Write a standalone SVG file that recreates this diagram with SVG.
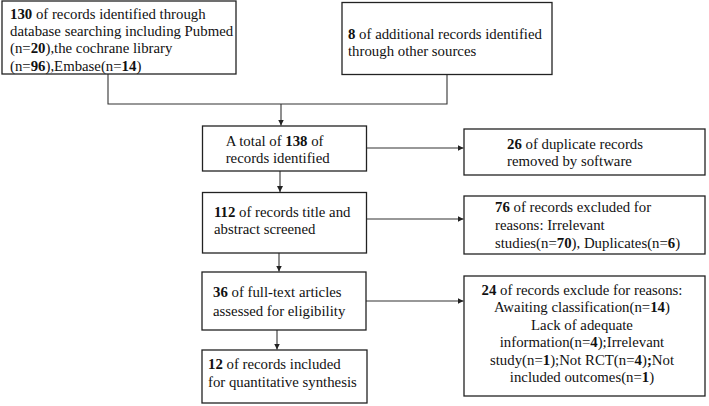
<svg xmlns="http://www.w3.org/2000/svg" width="709" height="406" viewBox="0 0 709 406">
<style>
.box{fill:#fff;stroke:#222;stroke-width:1.3}
.t{font-family:"Liberation Serif","Times New Roman",serif;font-size:14.8px;fill:#111}
.b{font-weight:bold}
.c{fill:none;stroke:#333;stroke-width:1.1}
</style>
<defs>
<marker id="ah" markerUnits="userSpaceOnUse" markerWidth="7" markerHeight="6" refX="6" refY="3" orient="auto">
<path d="M0,0 L6,3 L0,6 z" fill="#222"/>
</marker>
</defs>
<g id="connectors">
<path class="c" d="M108 74 V104 H447 V74.5"/>
<path class="c" d="M281 104 V125.5" marker-end="url(#ah)"/>
<path class="c" d="M366.5 148 H463.5" marker-end="url(#ah)"/>
<path class="c" d="M280 171 V192" marker-end="url(#ah)"/>
<path class="c" d="M366.5 219 H463.5" marker-end="url(#ah)"/>
<path class="c" d="M279 253 V271.5" marker-end="url(#ah)"/>
<path class="c" d="M366 301 H463.5" marker-end="url(#ah)"/>
<path class="c" d="M277 330 V349.5" marker-end="url(#ah)"/>
</g>
<g id="n1">
<rect class="box" x="2" y="1" width="234" height="73"/>
<text class="t" x="10" y="19"><tspan class="b">130</tspan> of records identified through</text>
<text class="t" x="10" y="36">database searching including Pubmed</text>
<text class="t" x="10" y="53.3">(n=<tspan class="b">20</tspan>),the cochrane library</text>
<text class="t" x="10" y="70.7">(n=<tspan class="b">96</tspan>),Embase(n=<tspan class="b">14</tspan>)</text>
</g>
<g id="n2">
<rect class="box" x="342" y="2.5" width="210" height="72"/>
<text class="t" x="348" y="39.3"><tspan class="b">8</tspan> of additional records identified</text>
<text class="t" x="348" y="56">through other sources</text>
</g>
<g id="n3">
<rect class="box" x="202.5" y="126" width="164" height="45"/>
<text class="t" x="225.7" y="146">A total of <tspan class="b">138</tspan> of</text>
<text class="t" x="225.7" y="163.3">records identified</text>
</g>
<g id="n4">
<rect class="box" x="464" y="129" width="241" height="46"/>
<text class="t" x="507" y="148.5"><tspan class="b">26</tspan> of duplicate records</text>
<text class="t" x="507" y="166">removed by software</text>
</g>
<g id="n5">
<rect class="box" x="202.5" y="192.5" width="164" height="60.5"/>
<text class="t" x="214" y="216.7"><tspan class="b">112</tspan> of records title and</text>
<text class="t" x="214" y="234">abstract screened</text>
</g>
<g id="n6">
<rect class="box" x="464" y="196" width="241" height="58"/>
<text class="t" x="495" y="212"><tspan class="b">76</tspan> of records excluded for</text>
<text class="t" x="495" y="230">reasons: Irrelevant</text>
<text class="t" x="495" y="247.7">studies(n=<tspan class="b">70</tspan>), Duplicates(n=<tspan class="b">6</tspan>)</text>
</g>
<g id="n7">
<rect class="box" x="202" y="272" width="164" height="58"/>
<text class="t" x="213" y="297"><tspan class="b">36</tspan> of full-text articles</text>
<text class="t" x="213" y="315.7">assessed for eligibility</text>
</g>
<g id="n8">
<rect class="box" x="464" y="276" width="241" height="120"/>
<g class="t" text-anchor="middle">
<text x="582" y="295"><tspan class="b">24</tspan> of records exclude for reasons:</text>
<text x="582" y="312">Awaiting classification(n=<tspan class="b">14</tspan>)</text>
<text x="582" y="329.5">Lack of adequate</text>
<text x="582" y="347">information(n=<tspan class="b">4</tspan>);Irrelevant</text>
<text x="582" y="364.5">study(n=<tspan class="b">1</tspan>);Not RCT(n=<tspan class="b">4</tspan>)<tspan class="b">;</tspan>Not</text>
<text x="582" y="382">included outcomes(n=<tspan class="b">1</tspan>)</text>
</g>
</g>
<g id="n9">
<rect class="box" x="202" y="350" width="165" height="53"/>
<text class="t" x="208" y="369"><tspan class="b">12</tspan> of records included</text>
<text class="t" x="208" y="386.7">for quantitative synthesis</text>
</g>
</svg>
